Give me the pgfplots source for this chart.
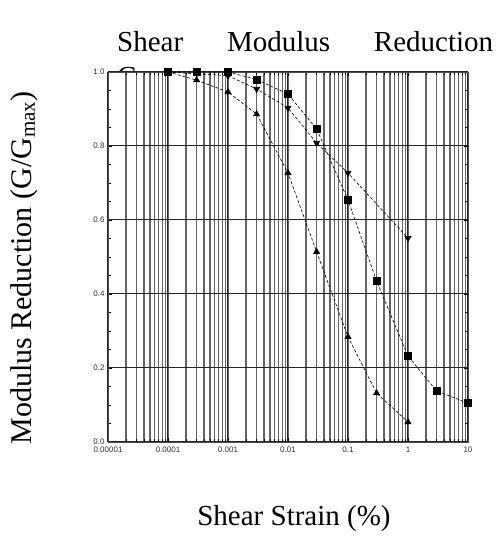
\documentclass[border=0pt]{standalone}
\usepackage{pgfplots}
\pgfplotsset{compat=1.18}
\usepackage{fontspec}
\setmainfont{Liberation Serif}
\setsansfont{Liberation Sans}
\begin{document}
\begin{tikzpicture}[x=1pt,y=1pt]
\useasboundingbox (0,0) rectangle (496,536);
\node[anchor=north west, text width=376pt, align=justify, inner sep=0pt,
      font=\fontsize{29}{35}\selectfont] at (117,505) {Shear Modulus Reduction Curves};
\begin{axis}[
  at={(108pt,94pt)}, anchor=south west,
  scale only axis, width=360pt, height=370pt,
  axis background/.style={fill=white},
  xmode=log, xmin=1e-5, xmax=10, ymin=0, ymax=1,
  xtick={1e-5,1e-4,1e-3,1e-2,1e-1,1,10},
  xticklabels={0.00001,0.0001,0.001,0.01,0.1,1,10},
  ytick={0,0.2,0.4,0.6,0.8,1.0},
  yticklabels={0.0,0.2,0.4,0.6,0.8,1.0},
  minor y tick num=3,
  xmajorgrids, xminorgrids, ymajorgrids,
  major grid style={black!85, line width=1pt},
  minor grid style={black!60, line width=1.3pt},
  axis line style={black!70, line width=0.6pt},
  tick style={black, line width=0.8pt},
  tick label style={font=\sffamily\fontsize{8}{9}\selectfont, text=black!80},
  xticklabel style={yshift=-1pt},
  every axis plot/.append style={black, line width=0.6pt, densely dashed},
]
\addplot[mark=square*, mark size=3.5pt, mark options={solid}] coordinates {
 (0.0001,1.0) (0.0003,1.0) (0.001,1.0) (0.003,0.98) (0.01,0.94) (0.03,0.846)
 (0.1,0.654) (0.3,0.435) (1,0.232) (3,0.138) (10,0.105)};
\addplot[mark=triangle*, mark size=3.5pt, mark options={solid, rotate=180}] coordinates {
 (0.0001,1.0) (0.0003,0.995) (0.001,0.99) (0.003,0.954) (0.01,0.903) (0.03,0.808)
 (0.1,0.727) (1,0.551)};
\addplot[mark=triangle*, mark size=3.5pt, mark options={solid}] coordinates {
 (0.0001,1.0) (0.0003,0.978) (0.001,0.946) (0.003,0.886) (0.01,0.727) (0.03,0.514)
 (0.1,0.284) (0.3,0.132) (1,0.054)};
\end{axis}
\node[rotate=90, font=\fontsize{30}{33}\selectfont, inner sep=0pt] at (24,268)
  {Modulus Reduction (G/G\textsubscript{max})};
\node[font=\fontsize{29}{32}\selectfont, inner sep=0pt] at (294,17) {Shear Strain (\%)};
\end{tikzpicture}
\end{document}
